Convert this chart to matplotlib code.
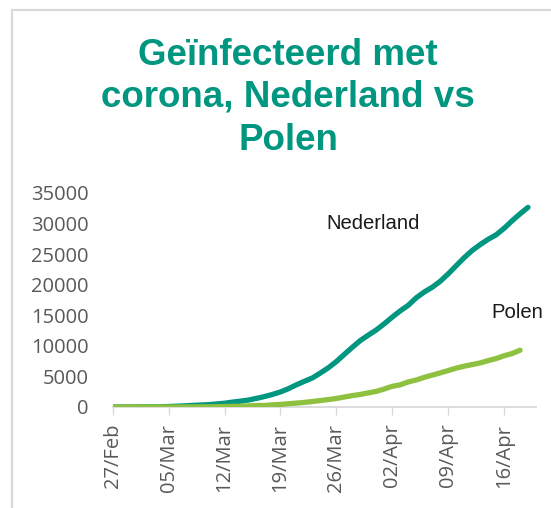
import matplotlib
matplotlib.use("Agg")
import matplotlib.pyplot as plt
import matplotlib.dates as mdates
import pandas as pd
from matplotlib.patches import Rectangle

plt.rcParams['font.family'] = ['Liberation Sans', 'DejaVu Sans']

# ---- data ----
start_date = "2020-02-27"
nederland = [1, 1, 6, 10, 18, 24, 38, 82, 128, 188, 265, 321, 382, 503, 614, 804,
             959, 1135, 1413, 1705, 2051, 2460, 2994, 3631, 4204, 4749, 5560, 6412,
             7431, 8603, 9762, 10866, 11750, 12595, 13614, 14697, 15723, 16627,
             17851, 18803, 19580, 20549, 21762, 23097, 24413, 25587, 26551, 27419,
             28153, 29214, 30449, 31589, 32655]
polen = [0, 0, 0, 0, 0, 1, 1, 5, 5, 11, 16, 22, 31, 49, 68, 103, 119, 177, 238,
         251, 355, 425, 536, 634, 749, 901, 1051, 1221, 1389, 1638, 1862, 2055,
         2311, 2554, 2946, 3383, 3627, 4102, 4413, 4848, 5205, 5575, 5955, 6356,
         6674, 6934, 7202, 7582, 7918, 8379, 8742, 9287]
tick_dates = ["2020-02-27", "2020-03-05", "2020-03-12", "2020-03-19",
              "2020-03-26", "2020-04-02", "2020-04-09", "2020-04-16"]
y_ticks = [0, 5000, 10000, 15000, 20000, 25000, 30000, 35000]
title_lines = ["Geïnfecteerd met", "corona, Nederland vs", "Polen"]
series_labels = ["Nederland", "Polen"]

nl_dates = pd.date_range(start_date, periods=len(nederland), freq="D")
pl_dates = pd.date_range(start_date, periods=len(polen), freq="D")

W, H = 551, 508
fig = plt.figure(figsize=(W / 100, H / 100), dpi=100)

# outer border (cropped at right/bottom)
fig.patches.append(Rectangle((12 / W, -0.05), 1.2, (H - 10) / H + 0.05,
                             transform=fig.transFigure, fill=False,
                             edgecolor="#D9D9D9", linewidth=1.6))

ax = fig.add_axes([112.7 / W, 101 / H, 423.3 / W, 214 / H])

teal = "#00967F"
green = "#8DC13F"
ax.plot(nl_dates, nederland, color=teal, lw=3.8, solid_capstyle="round", zorder=3)
ax.plot(pl_dates, polen, color=green, lw=3.8, solid_capstyle="round", zorder=3)

x0 = pd.Timestamp(start_date)
ax.set_xlim(x0, x0 + pd.Timedelta(days=53))
ax.set_ylim(0, 35000)

ax.set_xticks(pd.to_datetime(tick_dates))
ax.xaxis.set_major_formatter(mdates.DateFormatter("%d/%b"))
ax.set_yticks(y_ticks)
ax.set_yticklabels([str(v) for v in y_ticks])

for s in ["top", "right", "left"]:
    ax.spines[s].set_visible(False)
ax.spines["bottom"].set_color("#D9D9D9")
ax.spines["bottom"].set_linewidth(1.3)

ax.tick_params(axis="x", length=6, width=1.0, color="#D9D9D9", pad=6,
               labelsize=14.5, labelcolor="#595959", rotation=90)
ax.tick_params(axis="y", length=0, pad=17.5, labelsize=14.5, labelcolor="#595959")
for lab in ax.get_xticklabels() + ax.get_yticklabels():
    lab.set_family(["Open Sans", "DejaVu Sans"])

# series labels
ax.text(x0 + pd.Timedelta(days=32.6), 30000, series_labels[0], fontsize=14.6,
        color="#1a1a1a", ha="center", va="center")
ax.text(x0 + pd.Timedelta(days=50.6), 15450, series_labels[1], fontsize=14.6,
        color="#1a1a1a", ha="center", va="center")

# title
for txt, yb in zip(title_lines, [65, 107, 150]):
    fig.text(288 / W, 1 - yb / H, txt, fontsize=26.5, fontweight="bold",
             color="#00967F", ha="center", va="baseline")

fig.savefig("out.png", dpi=100)
